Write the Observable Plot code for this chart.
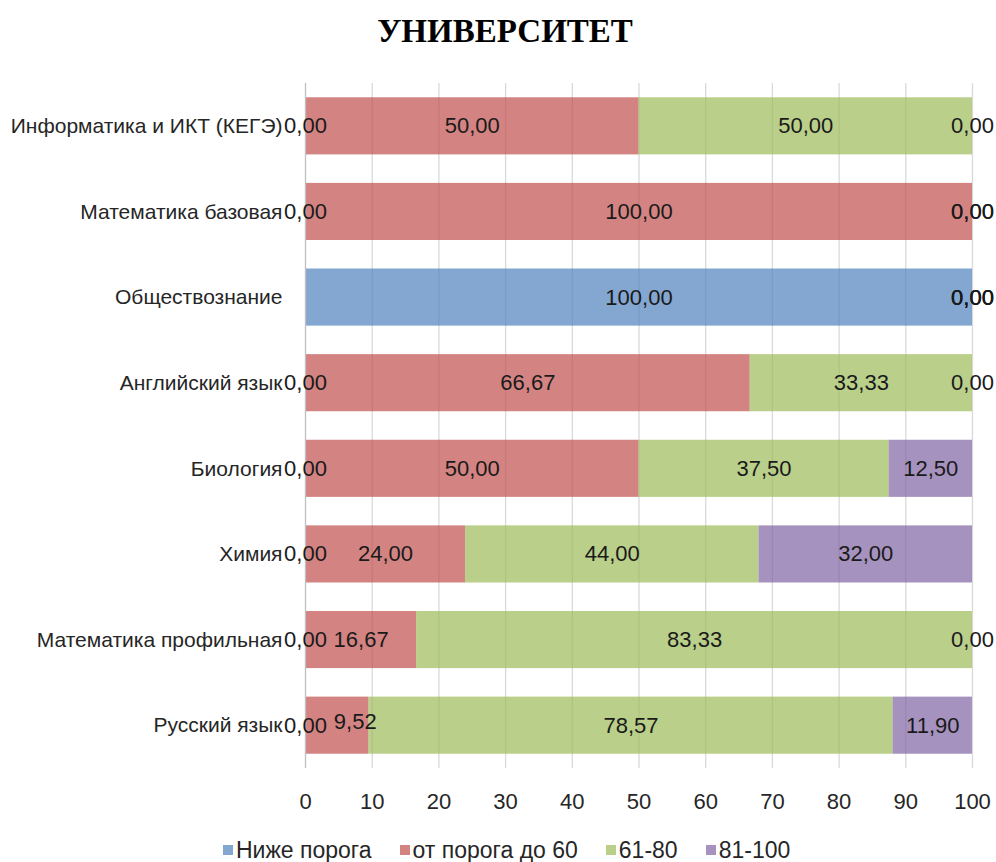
<!DOCTYPE html>
<html>
<head>
<meta charset="utf-8">
<script src="https://cdn.jsdelivr.net/npm/d3@7"></script>
<script src="https://cdn.jsdelivr.net/npm/@observablehq/plot@0.6"></script>
<style>
  html, body { margin: 0; padding: 0; background: #fff; overflow: hidden; }
  #wrap { width: 996px; }
  #title { height: 60px; line-height: 62px; text-align: center; font-family: "Liberation Serif", "DejaVu Serif", serif; font-weight: bold; font-size: 33px; color: #000; padding-left: 14px; box-sizing: border-box; }
  #legend { display: flex; justify-content: flex-start; align-items: center; height: 32px; padding-top: 8px; font-family: "Liberation Sans", Arial, sans-serif; font-size: 23px; color: #262626; padding-left: 209px; box-sizing: border-box; }
  .item { display: flex; align-items: center; margin: 0 14px; }
  .sw { width: 10px; height: 10px; margin-right: 3px; }
</style>
</head>
<body>
<div id="wrap">
  <div id="title">УНИВЕРСИТЕТ</div>
  <div id="chart"></div>
  <div id="legend"></div>
</div>
<script>
const subjects = ["Информатика и ИКТ (КЕГЭ)", "Математика базовая", "Обществознание", "Английский язык", "Биология", "Химия", "Математика профильная", "Русский язык"];
const series = ["Ниже порога", "от порога до 60", "61-80", "81-100"];
const belowThreshold = [0, 0, 100, 0, 0, 0, 0, 0];
const thresholdTo60 = [50, 100, 0, 66.67, 50, 24, 16.67, 9.52];
const range61to80 = [50, 0, 0, 33.33, 37.5, 44, 83.33, 78.57];
const range81to100 = [0, 0, 0, 0, 12.5, 32, 0, 11.9];
const colors = ["#4F81BD", "#C0504D", "#9BBB59", "#8064A2"];
const xTicks = [0, 10, 20, 30, 40, 50, 60, 70, 80, 90, 100];

const seriesValues = [belowThreshold, thresholdTo60, range61to80, range81to100];
const data = [];
subjects.forEach((s, i) => {
  series.forEach((k, j) => {
    data.push({subject: s, series: k, value: seriesValues[j][i]});
  });
});
const fmt = v => v.toFixed(2).replace(".", ",");
const font = "Liberation Sans, Arial, sans-serif";
// one label that the original nudged aside to avoid overlapping its neighbour
const nudged = d => d.subject === "Русский язык" && d.series === "от порога до 60";

const labelOpts = {x: "value", y: "subject", z: "series", order: null, fill: "#1a1a1a", fontSize: 22};

const chart = Plot.plot({
  width: 996,
  height: 770,
  marginTop: 23,
  marginBottom: 62,
  marginLeft: 305,
  marginRight: 24,
  style: {fontFamily: font, fontSize: "21px", color: "#262626", background: "#fff"},
  x: {domain: [0, 100], ticks: xTicks},
  y: {domain: subjects, paddingInner: 0.333, paddingOuter: 0.1667, round: false},
  color: {domain: series, range: colors},
  marks: [
    Plot.gridX(xTicks.filter(t => t > 0), {stroke: "#d9d9d9", strokeOpacity: 1, strokeWidth: 1.3}),
    Plot.barX(data, Plot.stackX({x: "value", y: "subject", fill: "series", z: "series", fillOpacity: 0.7, order: null})),
    Plot.ruleX([0], {stroke: "#bfbfbf", strokeWidth: 1.3}),
    Plot.axisX({ticks: xTicks, tickSize: 0, tickPadding: 25, label: null, fontSize: 22}),
    Plot.axisY({tickSize: 0, tickPadding: 23, label: null, fontSize: 21}),
    Plot.text(data, Plot.stackX({...labelOpts, text: d => nudged(d) ? "" : fmt(d.value)})),
    Plot.text(data, Plot.stackX({...labelOpts, text: d => nudged(d) ? fmt(d.value) : "", dx: 18, dy: -4}))
  ]
});
document.getElementById("chart").appendChild(chart);

const legend = document.getElementById("legend");
series.forEach((s, i) => {
  const item = document.createElement("div");
  item.className = "item";
  const sw = document.createElement("div");
  sw.className = "sw";
  sw.style.background = colors[i];
  sw.style.opacity = 0.7;
  const t = document.createElement("span");
  t.textContent = s;
  item.appendChild(sw);
  item.appendChild(t);
  legend.appendChild(item);
});
</script>
</body>
</html>
